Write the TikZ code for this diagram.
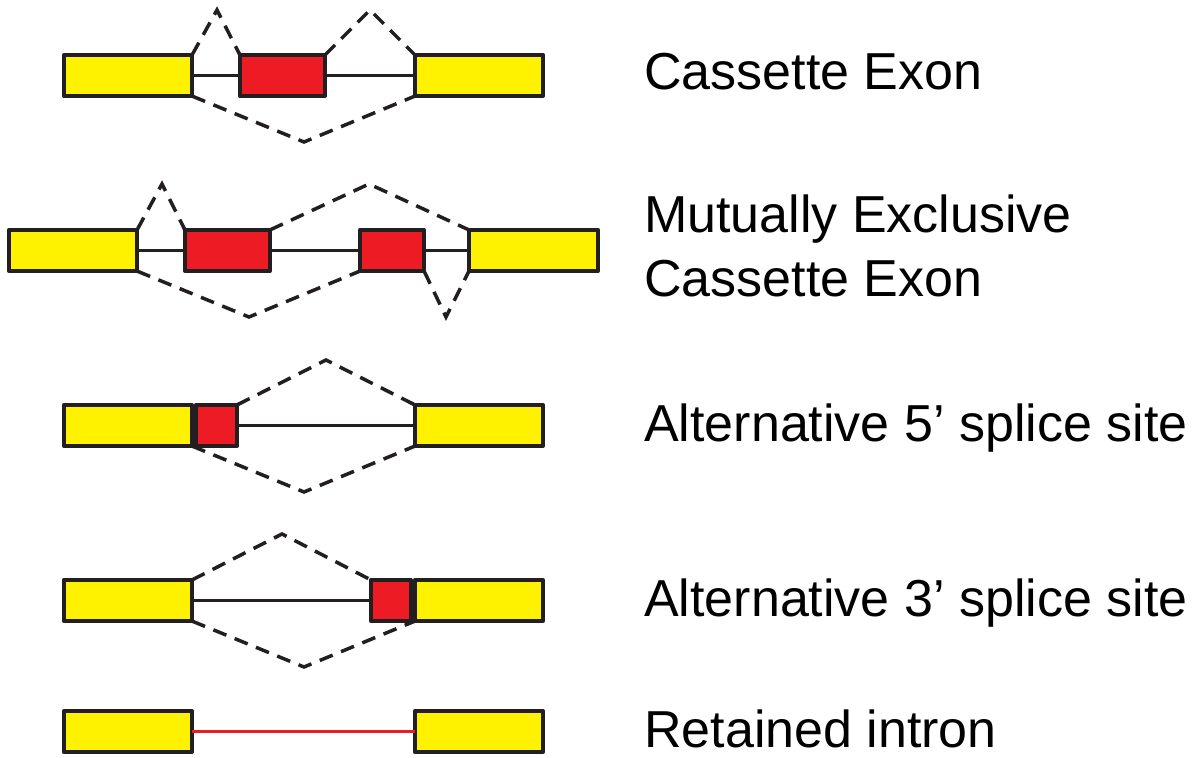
\documentclass[tikz,border=0pt]{standalone}
\usepackage{fontspec}
\setmainfont{Liberation Sans}
\definecolor{exonyellow}{HTML}{FFF200}
\definecolor{exonred}{HTML}{ED1C24}
\definecolor{ink}{HTML}{231F20}
\begin{document}
\begin{tikzpicture}[x=1pt, y=-1pt,
  % boxes are placed by their outer top-left corner; sizes are stroke-centre sizes
  box/.style={draw=ink, line width=3.8pt, inner sep=0pt, outer sep=0pt, anchor=north west,
              xshift=1.9pt, yshift=-1.9pt, minimum height=41.2pt, line join=round},
  yel/.style={box, fill=exonyellow, minimum width=128.2pt},
  red/.style={box, fill=exonred},
  intron/.style={draw=ink, line width=2.8pt},
  kept/.style={draw=exonred, line width=2.8pt},
  splice/.style={draw=ink, line width=3.5pt, dash pattern=on 14pt off 9pt, line join=miter},
  lbl/.style={anchor=base west, inner sep=0pt, font=\fontsize{52}{64}\selectfont, align=left}]
\useasboundingbox (0,0) rectangle (1201,757);

% --- Cassette exon ---
\node[yel] (a1) at (62,53) {};
\node[red, minimum width=85.2pt] (r1) at (238,53) {};
\node[yel] (b1) at (413,53) {};
\draw[intron] (a1.east) -- (r1.west);
\draw[intron] (r1.east) -- (b1.west);
\coordinate (p1a) at (217,10);
\coordinate (p1b) at (370,10);
\coordinate (v1) at (304,142);
\draw[splice] (a1.north east) -- (p1a) -- (r1.north west);
\draw[splice] (r1.north east) -- (p1b) -- (b1.north west);
\draw[splice] (a1.south east) -- (v1) -- (b1.south west);
\node[lbl] (t1) at (644,90) {Cassette Exon};

% --- Mutually exclusive cassette exons ---
\node[yel] (a2) at (7,228) {};
\node[red, minimum width=85.2pt] (r2a) at (183,228) {};
\node[red, minimum width=64.2pt] (r2b) at (358,228) {};
\node[yel, minimum width=129.2pt] (b2) at (467,228) {};
\draw[intron] (a2.east) -- (r2a.west);
\draw[intron] (r2a.east) -- (r2b.west);
\draw[intron] (r2b.east) -- (b2.west);
\coordinate (p2a) at (162,184);
\coordinate (p2b) at (369,184);
\coordinate (v2a) at (249,317);
\coordinate (v2b) at (446,317);
\draw[splice] (a2.north east) -- (p2a) -- (r2a.north west);
\draw[splice] (r2a.north east) -- (p2b) -- (b2.north west);
\draw[splice] (a2.south east) -- (v2a) -- (r2b.south west);
\draw[splice] (r2b.south east) -- (v2b) -- (b2.south west);
\node[lbl] (t2) at (644,296) {Mutually Exclusive\\Cassette Exon};

% --- Alternative 5' splice site ---
\node[yel] (a3) at (62,403) {};
\node[red, minimum width=41.2pt] (r3) at (194,403) {};
\node[yel] (b3) at (413,403) {};
\draw[intron] (r3.east) -- (b3.west);
\coordinate (p3) at (326,360);
\coordinate (v3) at (304,492);
\draw[splice] (r3.north east) -- (p3) -- (b3.north west);
\draw[splice] (a3.south east) -- (v3) -- (b3.south west);
\node[lbl] (t3) at (644,441) {Alternative 5’ splice site};

% --- Alternative 3' splice site ---
\node[yel] (a4) at (62,578) {};
\node[yel] (b4) at (413,578) {};
\node[red, minimum width=40.2pt] (r4) at (369,578) {};
\draw[intron] (a4.east) -- (r4.west);
\coordinate (p4) at (282,534);
\coordinate (v4) at (304,667);
\draw[splice] (a4.north east) -- (p4) -- (r4.north west);
\draw[splice] (a4.south east) -- (v4) -- (b4.south west);
\node[lbl] (t4) at (644,616) {Alternative 3’ splice site};

% --- Retained intron ---
\node[yel] (a5) at (62,709) {};
\node[yel] (b5) at (413,709) {};
\draw[kept] (a5.east) -- (b5.west);
\node[lbl] (t5) at (644,747) {Retained intron};
\end{tikzpicture}
\end{document}
